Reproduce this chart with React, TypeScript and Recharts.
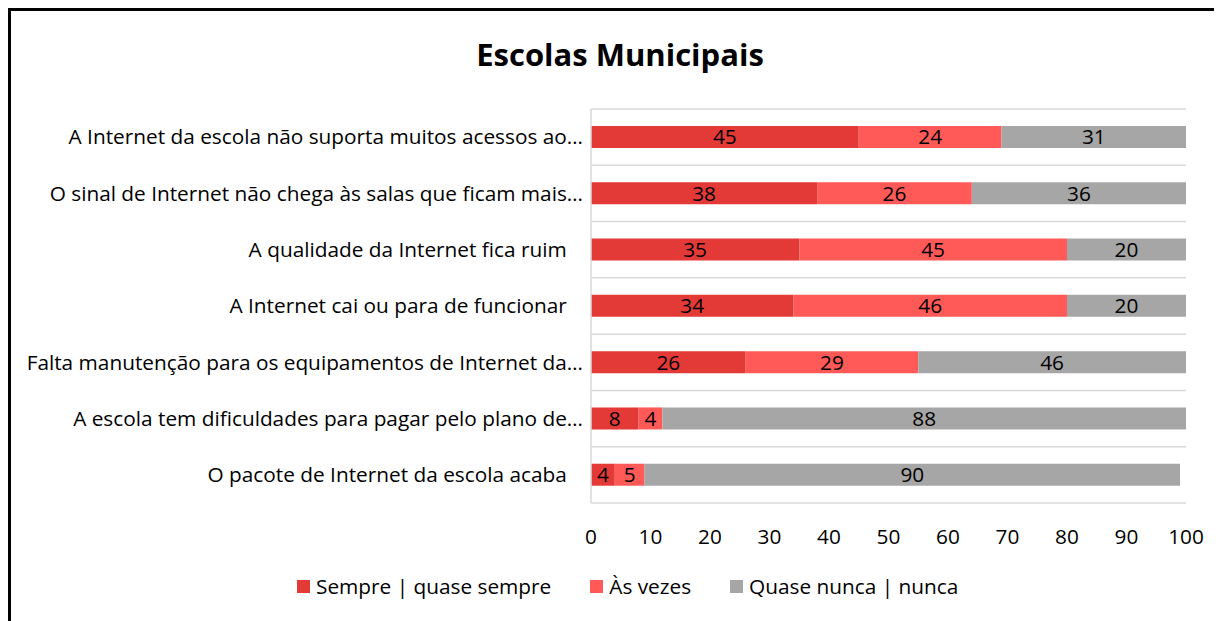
import { Bar, BarChart, CartesianGrid, LabelList, XAxis, YAxis } from 'recharts'

const categories = [
  'A Internet da escola não suporta muitos acessos ao…',
  'O sinal de Internet não chega às salas que ficam mais…',
  'A qualidade da Internet fica ruim   ',
  'A Internet cai ou para de funcionar   ',
  'Falta manutenção para os equipamentos de Internet da…',
  'A escola tem dificuldades para pagar pelo plano de…',
  'O pacote de Internet da escola acaba   ',
]
const sempre = [45, 38, 35, 34, 26, 8, 4]
const asVezes = [24, 26, 45, 46, 29, 4, 5]
const quaseNunca = [31, 36, 20, 20, 46, 88, 90]
const xTicks = [0, 10, 20, 30, 40, 50, 60, 70, 80, 90, 100]
const seriesNames = ['Sempre | quase sempre', 'Às vezes', 'Quase nunca | nunca']

const seriesKeys = ['sempre', 'asVezes', 'quaseNunca']
const seriesColors = ['#E43A37', '#FF5A57', '#A6A6A6']

const data = categories.map((name, i) => ({
  name,
  sempre: sempre[i],
  asVezes: asVezes[i],
  quaseNunca: quaseNunca[i],
}))

const FONT = '"Open Sans", "Noto Sans", sans-serif'
const FS = 20.8
const CHART_W = 1211
const CHART_H = 610

function YTick({ x, y, payload }: any) {
  return (
    <text x={x} y={y} dy="0.35em" textAnchor="end" fill="#000" fontSize={FS} style={{ whiteSpace: 'pre' }}>
      {payload.value}
    </text>
  )
}

export default function App() {
  return (
    <div
      style={{
        width: 1214,
        height: 613,
        boxSizing: 'border-box',
        borderTop: '3px solid #000',
        borderLeft: '3px solid #000',
        position: 'relative',
        fontFamily: FONT,
        background: '#fff',
      }}
    >
      <div
        style={{
          position: 'absolute',
          top: 22,
          left: 0,
          width: CHART_W + 7,
          textAlign: 'center',
          fontSize: 31,
          fontWeight: 700,
          color: '#000',
        }}
      >
        Escolas Municipais
      </div>

      <BarChart
        width={CHART_W}
        height={CHART_H}
        data={data}
        layout="vertical"
        margin={{ top: 98, right: 36, bottom: 88, left: 0 }}
      >
        <CartesianGrid
          vertical={false}
          stroke="#D9D9D9"
          strokeWidth={1.5}
          horizontalCoordinatesGenerator={({ offset }: any) =>
            Array.from({ length: categories.length + 1 }, (_, i) => offset.top + (i * offset.height) / categories.length)
          }
        />
        <XAxis
          type="number"
          domain={[0, 100]}
          ticks={xTicks}
          allowDataOverflow
          axisLine={false}
          tickLine={false}
          tickMargin={20}
          height={30}
          tick={{ fill: '#000', fontSize: FS }}
        />
        <YAxis
          type="category"
          dataKey="name"
          width={580}
          axisLine={{ stroke: '#D9D9D9', strokeWidth: 1.5 }}
          tickLine={false}
          tick={<YTick />}
          interval={0}
        />
        {seriesKeys.map((key, i) => (
          <Bar key={key} dataKey={key} name={seriesNames[i]} stackId="a" fill={seriesColors[i]} barSize={22} isAnimationActive={false}>
            <LabelList dataKey={key} position="center" fill="#000" fontSize={FS} />
          </Bar>
        ))}
      </BarChart>

      <div
        style={{
          position: 'absolute',
          top: 561,
          left: 286,
          display: 'flex',
          alignItems: 'center',
          gap: 39,
          fontSize: FS,
          color: '#000',
        }}
      >
        {seriesNames.map((name, i) => (
          <div key={name} style={{ display: 'flex', alignItems: 'center', gap: 6 }}>
            <span style={{ width: 13, height: 13, background: seriesColors[i], display: 'inline-block' }} />
            <span>{name}</span>
          </div>
        ))}
      </div>
    </div>
  )
}
